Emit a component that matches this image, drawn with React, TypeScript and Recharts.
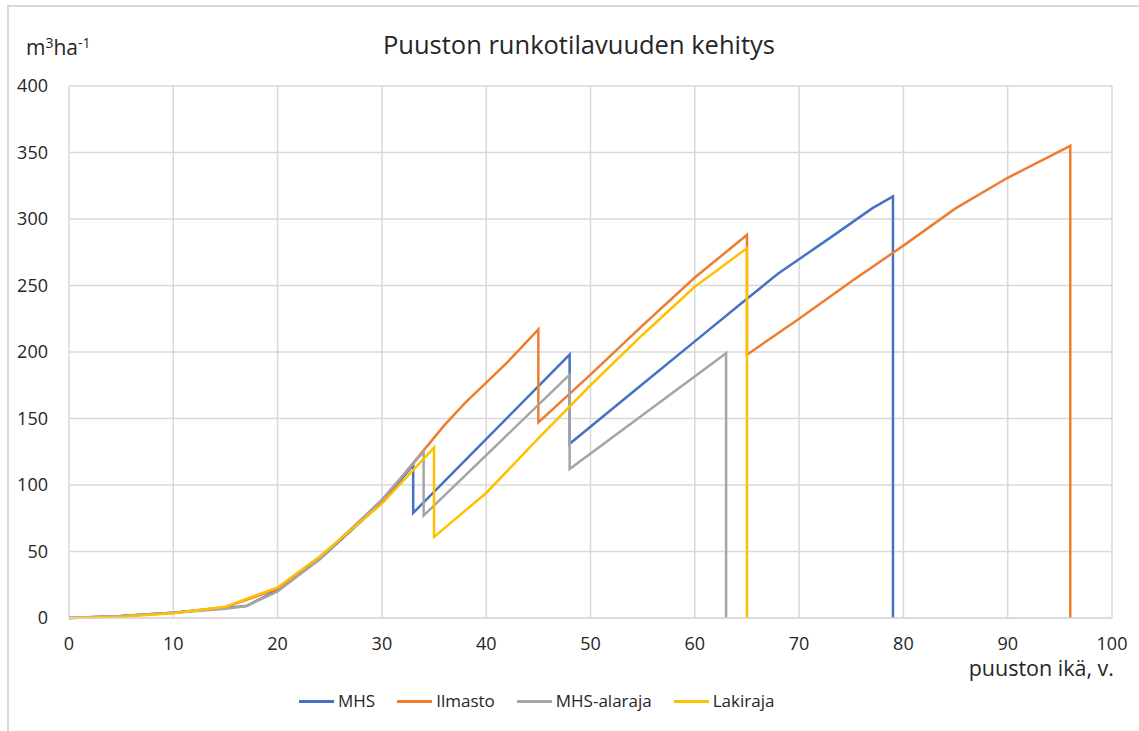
import { LineChart, Line, XAxis, YAxis, CartesianGrid } from "recharts";

const ageTicks = [0, 10, 20, 30, 40, 50, 60, 70, 80, 90, 100];
const volTicks = [0, 50, 100, 150, 200, 250, 300, 350, 400];

// MHS
const mhsAge = [0, 5, 10, 15, 17, 20, 24, 30, 33, 33, 48, 48, 55, 60, 65, 68, 73, 77, 79, 79];
const mhsVol = [0, 1.5, 4, 7.5, 9, 21, 44, 87, 115, 79, 198, 131, 176, 208, 240, 259, 286, 308, 317, 0];

// Ilmasto
const ilmAge = [0, 5, 10, 15, 20, 24, 30, 34, 36, 38, 40, 42, 45, 45, 50, 55, 60, 65, 65, 70, 75, 80, 85, 90, 96, 96];
const ilmVol = [0, 1.5, 4, 8, 22, 45, 88, 126, 145, 162, 177, 192, 217, 147, 183, 220, 256, 288, 198, 225, 253, 280, 308, 331, 355, 0];

// MHS-alaraja
const alaAge = [0, 5, 10, 15, 17, 20, 24, 30, 34, 34, 48, 48, 63, 63];
const alaVol = [0, 1.5, 4, 7, 9, 20, 44, 89, 125, 77, 183, 112, 199, 0];

// Lakiraja
const lakiAge = [0, 5, 10, 15, 20, 24, 30, 35, 35, 40, 45, 50, 55, 60, 65, 65];
const lakiVol = [0, 1, 3.5, 8.5, 23, 46, 86, 128, 61, 94, 135, 175, 213, 249, 278, 0];

type Pt = { x: number; y: number };

function toPoints(ages: number[], vols: number[]): Pt[] {
  return ages.map((x, i) => ({ x, y: vols[i] }));
}

const series = [
  { name: "MHS", color: "#4472C4", data: toPoints(mhsAge, mhsVol) },
  { name: "Ilmasto", color: "#ED7D31", data: toPoints(ilmAge, ilmVol) },
  { name: "MHS-alaraja", color: "#A5A5A5", data: toPoints(alaAge, alaVol) },
  { name: "Lakiraja", color: "#FFC000", data: toPoints(lakiAge, lakiVol) },
];

const FONT = "'Open Sans', sans-serif";
const TEXT = "#262626";
const GRID = "#d9d9d9";

export default function App() {
  return (
    <div
      style={{
        position: "absolute",
        left: 0,
        top: 0,
        width: 1139,
        height: 731,
        overflow: "hidden",
        background: "#fff",
        fontFamily: FONT,
        color: TEXT,
      }}
    >
      {/* frame */}
      <div
        style={{
          position: "absolute",
          left: 7,
          top: 5,
          width: 1200,
          height: 800,
          borderTop: `2px solid ${GRID}`,
          borderLeft: `2px solid ${GRID}`,
        }}
      />

      {/* title + unit */}
      <div
        style={{
          position: "absolute",
          left: 0,
          top: 27,
          width: 1158,
          textAlign: "center",
          fontSize: 25.5,
          lineHeight: "34px",
        }}
      >
        Puuston runkotilavuuden kehitys
      </div>
      <div
        style={{
          position: "absolute",
          left: 26,
          top: 28,
          fontSize: 21,
          lineHeight: "30px",
        }}
      >
        m<span style={{ fontSize: 14, verticalAlign: 7 }}>3</span>ha
        <span style={{ fontSize: 14, verticalAlign: 7 }}>-1</span>
      </div>

      <div style={{ position: "absolute", left: 0, top: 0 }}>
        <LineChart
          width={1139}
          height={731}
          margin={{ top: 86, right: 27, bottom: 83, left: 9 }}
        >
          <CartesianGrid stroke={GRID} strokeWidth={1.5} />
          <XAxis
            dataKey="x"
            type="number"
            domain={[0, 100]}
            ticks={ageTicks}
            allowDataOverflow
            height={30}
            tickSize={0}
            tickMargin={19}
            tickLine={false}
            axisLine={{ stroke: GRID, strokeWidth: 1.5 }}
            tick={{ fontSize: 18, fill: TEXT, fontFamily: FONT }}
          />
          <YAxis
            type="number"
            domain={[0, 400]}
            ticks={volTicks}
            width={60}
            tickSize={0}
            tickMargin={21}
            tickLine={false}
            axisLine={false}
            tick={{ fontSize: 18, fill: TEXT, fontFamily: FONT }}
          />
          {series.map((s) => (
            <Line
              key={s.name}
              name={s.name}
              data={s.data}
              dataKey="y"
              type="linear"
              stroke={s.color}
              strokeWidth={2.5}
              dot={false}
              activeDot={false}
              isAnimationActive={false}
            />
          ))}
        </LineChart>
      </div>

      {/* x axis title */}
      <div
        style={{
          position: "absolute",
          right: 25,
          top: 655,
          fontSize: 21.5,
          lineHeight: "26px",
        }}
      >
        puuston ikä, v.
      </div>

      {/* legend */}
      <div
        style={{
          position: "absolute",
          left: 299,
          top: 689,
          display: "flex",
          alignItems: "center",
          fontSize: 17,
          lineHeight: "24px",
        }}
      >
        {series.map((s) => (
          <div
            key={s.name}
            style={{ display: "flex", alignItems: "center", marginRight: 22 }}
          >
            <div
              style={{
                width: 35,
                height: 3,
                background: s.color,
                marginRight: 4,
              }}
            />
            <span>{s.name}</span>
          </div>
        ))}
      </div>
    </div>
  );
}
